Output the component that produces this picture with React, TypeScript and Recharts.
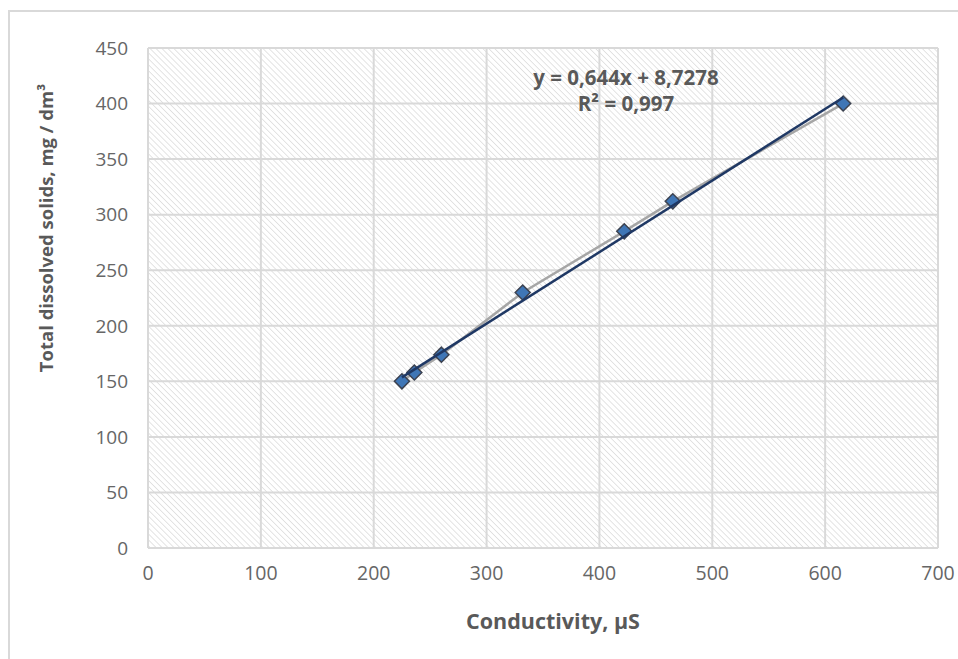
import React from 'react';
import { ComposedChart, Scatter, XAxis, YAxis, CartesianGrid, Customized } from 'recharts';

const conductivity = [225, 236, 260, 332, 422, 465, 616];
const dissolvedSolids = [150, 158, 174, 230, 285, 312, 400];
const trendConductivity = [225, 616];
const trendSolids = [153.6, 405.4];
const xTicks = [0, 100, 200, 300, 400, 500, 600, 700];
const yTicks = [0, 50, 100, 150, 200, 250, 300, 350, 400, 450];
const equationLine = 'y = 0,644x + 8,7278';
const rSquaredLine = 'R² = 0,997';
const xTitle = 'Conductivity, µS';
const yTitle = 'Total dissolved solids, mg / dm³';

const points = conductivity.map((x, i) => ({ x, y: dissolvedSolids[i] }));
const trend = trendConductivity.map((x, i) => ({ x, y: trendSolids[i] }));

const FONT = '"Open Sans", "Noto Sans", sans-serif';

const Diamond = (props: any) => {
  const { cx, cy } = props;
  if (cx == null || cy == null) return <g />;
  const r = 7.5;
  return (
    <path
      d={`M${cx},${cy - r}L${cx + r},${cy}L${cx},${cy + r}L${cx - r},${cy}Z`}
      fill="#3f76b6"
      stroke="#3c4250"
      strokeWidth={1.5}
    />
  );
};

const Nothing = () => <g />;

const Equation = () => (
  <g fontFamily={FONT} fontWeight={700} fontSize={20.5} fill="#595959">
    <text x={626} y={85} textAnchor="middle">{equationLine}</text>
    <text x={626} y={111} textAnchor="middle">{rSquaredLine}</text>
  </g>
);

const YTitle = () => (
  <text
    x={48}
    y={228}
    transform="rotate(-90, 48, 228)"
    textAnchor="middle"
    dominantBaseline="middle"
    fontFamily={FONT}
    fontWeight={700}
    fontSize={18.5}
    fill="#595959"
  >
    {yTitle}
  </text>
);

export default function App() {
  return (
    <div style={{ position: 'absolute', left: 0, top: 0, width: 958, height: 659, background: '#fff', overflow: 'hidden' }}>
      <svg width={0} height={0} style={{ position: 'absolute' }}>
        <defs>
          <pattern id="hatch" patternUnits="userSpaceOnUse" width={4.2} height={4.2} patternTransform="rotate(-45)">
            <rect width={4.2} height={4.2} fill="#ffffff" />
            <line x1={0} y1={0} x2={0} y2={4.2} stroke="#d6d6d6" strokeWidth={1.3} />
          </pattern>
        </defs>
      </svg>
      <div style={{ position: 'absolute', left: 8, top: 10, width: 1000, height: 700, borderLeft: '2px solid #d9d9d9', borderTop: '2px solid #d9d9d9' }} />
      <div style={{ position: 'absolute', left: 0, top: 0 }}>
        <ComposedChart width={958} height={659} margin={{ top: 48, right: 20, bottom: 21, left: 0 }}>
          <CartesianGrid fill="url(#hatch)" stroke="#d9d9d9" strokeWidth={2} />
          <XAxis
            type="number"
            dataKey="x"
            domain={[0, 700]}
            ticks={xTicks}
            allowDataOverflow
            height={90}
            tickLine={false}
            tickSize={0}
            tickMargin={18}
            axisLine={{ stroke: '#d9d9d9', strokeWidth: 2 }}
            tick={{ fill: '#666666', fontSize: 19.5, fontFamily: FONT }}
            label={{ value: xTitle, position: 'insideBottom', offset: 9, dx: 10, fill: '#595959', fontSize: 21.5, fontWeight: 700, fontFamily: FONT }}
          />
          <YAxis
            type="number"
            dataKey="y"
            domain={[0, 450]}
            ticks={yTicks}
            allowDataOverflow
            width={148}
            tickLine={false}
            tickSize={0}
            tickMargin={20}
            axisLine={false}
            tick={{ fill: '#666666', fontSize: 19, fontFamily: FONT }}
          />
          <Scatter
            data={points}
            line={{ stroke: '#a6a6a6', strokeWidth: 2.5 }}
            lineType="joint"
            shape={Diamond}
            isAnimationActive={false}
          />
          <Scatter
            data={trend}
            line={{ stroke: '#1f3864', strokeWidth: 2.5 }}
            lineType="joint"
            shape={Nothing}
            isAnimationActive={false}
          />
          <Customized component={Equation} />
          <Customized component={YTitle} />
        </ComposedChart>
      </div>
    </div>
  );
}
